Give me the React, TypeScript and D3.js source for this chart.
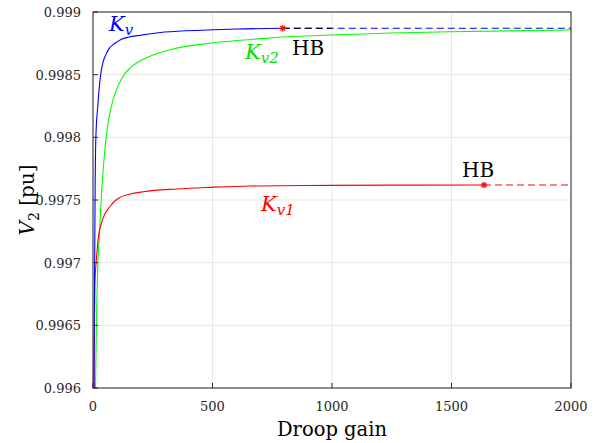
import React from "react";
import * as d3 from "d3";

// Kv (blue) curve
const kvGain = [4, 5.5, 7, 9, 12, 20, 32, 42, 54, 68, 84, 100, 117, 150, 200, 300, 476, 600, 794];
const kvV = [0.996, 0.9966, 0.997, 0.9976, 0.998, 0.99825, 0.9985, 0.9986, 0.99866, 0.99871, 0.99874, 0.99876, 0.99878, 0.9988, 0.998815, 0.99884, 0.998856, 0.998864, 0.99887];

// Kv2 (green) curve
const kv2Gain = [10.5, 14.6, 20.9, 28, 34.7, 44.8, 58.6, 75.3, 96.2, 121.3, 154.8, 196.7, 267.8, 334.7, 476.9, 615, 753, 1000, 1251, 1494, 2000];
const kv2V = [0.996, 0.996543, 0.997021, 0.997261, 0.997524, 0.997795, 0.998058, 0.998234, 0.99837, 0.998473, 0.998553, 0.998609, 0.998669, 0.998705, 0.998749, 0.998774, 0.998795, 0.998816, 0.998832, 0.998843, 0.998856];

// Kv1 (red) curve
const kv1Gain = [4, 6, 8, 14, 21, 36, 50, 71, 90, 113, 155, 210, 350, 490, 657, 1000, 1300, 1636];
const kv1V = [0.996, 0.9965, 0.99684, 0.99702, 0.99718, 0.99732, 0.99739, 0.997446, 0.99749, 0.997521, 0.997548, 0.997566, 0.997588, 0.997601, 0.997612, 0.997617, 0.997619, 0.99762];

// Hopf bifurcation points and dashed continuations
const hbGain = [794, 1636];
const hbV = [0.99887, 0.99762];
const dashEndGain = 2000;

const xTicks = [0, 500, 1000, 1500, 2000];
const xTickLabels = ["0", "500", "1000", "1500", "2000"];
const yTicks = [0.996, 0.9965, 0.997, 0.9975, 0.998, 0.9985, 0.999];
const yTickLabels = ["0.996", "0.9965", "0.997", "0.9975", "0.998", "0.9985", "0.999"];

const W = 605;
const H = 443;
const L = 93, R = 571, T = 12, B = 388;
const FONT = "DejaVu Serif";

export default function App() {
  const x = d3.scaleLinear().domain([0, 2000]).range([L, R]);
  const y = d3.scaleLinear().domain([0.996, 0.999]).range([B, T]);
  const line = d3
    .line<[number, number]>()
    .x((d) => x(d[0]))
    .y((d) => y(d[1]))
    .curve(d3.curveMonotoneX);
  const pts = (g: number[], v: number[]) => g.map((gg, i) => [gg, v[i]] as [number, number]);

  const star = (cx: number, cy: number, color: string) => {
    const r = 3.2;
    const d = r * 0.72;
    return (
      <g stroke={color} strokeWidth={1.2}>
        <line x1={cx - r} y1={cy} x2={cx + r} y2={cy} />
        <line x1={cx} y1={cy - r} x2={cx} y2={cy + r} />
        <line x1={cx - d} y1={cy - d} x2={cx + d} y2={cy + d} />
        <line x1={cx - d} y1={cy + d} x2={cx + d} y2={cy - d} />
      </g>
    );
  };

  return (
    <svg
      width={W}
      height={H}
      fontFamily={FONT}
      style={{ position: "absolute", left: 0, top: 0, background: "#fff" }}
    >
      <defs>
        <clipPath id="plot">
          <rect x={L} y={T} width={R - L} height={B - T} />
        </clipPath>
      </defs>
      <rect x={0} y={0} width={W} height={H} fill="#fff" />
      {/* grid */}
      {xTicks.map((t) => (
        <line key={"gx" + t} x1={x(t)} x2={x(t)} y1={T} y2={B} stroke="#e6e6e6" strokeWidth={1} />
      ))}
      {yTicks.map((t) => (
        <line key={"gy" + t} x1={L} x2={R} y1={y(t)} y2={y(t)} stroke="#e6e6e6" strokeWidth={1} />
      ))}
      {/* curves */}
      <g clipPath="url(#plot)" fill="none" strokeWidth={1.1}>
        <path d={line(pts(kv2Gain, kv2V)) || ""} stroke="#00ff00" />
        <path d={line(pts(kv1Gain, kv1V)) || ""} stroke="#ff0000" />
        <path d={line(pts(kvGain, kvV)) || ""} stroke="#0000ff" />
        <line x1={x(hbGain[0])} x2={x(dashEndGain)} y1={y(hbV[0])} y2={y(hbV[0])} stroke="#0000ff" strokeDasharray="7,4" />
        <line x1={x(hbGain[0])} x2={x(1000)} y1={y(hbV[0])} y2={y(hbV[0])} stroke="#000000" strokeDasharray="7,4" />
        <line x1={x(hbGain[1])} x2={x(dashEndGain)} y1={y(hbV[1])} y2={y(hbV[1])} stroke="#ff0000" strokeDasharray="7,4" />
      </g>
      {star(x(hbGain[0]), y(hbV[0]), "#ff0000")}
      {star(x(hbGain[1]), y(hbV[1]), "#ff0000")}
      {/* axes box */}
      <rect x={L} y={T} width={R - L} height={B - T} fill="none" stroke="#262626" strokeWidth={1} />
      {xTicks.map((t) => (
        <line key={"tx" + t} x1={x(t)} x2={x(t)} y1={B} y2={B - 5} stroke="#262626" />
      ))}
      {yTicks.map((t) => (
        <line key={"ty" + t} x1={L} x2={L + 5} y1={y(t)} y2={y(t)} stroke="#262626" />
      ))}
      {/* tick labels */}
      {xTicks.map((t, i) => (
        <text key={"lx" + t} x={x(t)} y={411} textAnchor="middle" fontSize={13} fill="#262626">
          {xTickLabels[i]}
        </text>
      ))}
      {yTicks.map((t, i) => (
        <text key={"ly" + t} x={81} y={y(t) + 5} textAnchor="end" fontSize={13} fill="#262626">
          {yTickLabels[i]}
        </text>
      ))}
      {/* axis labels */}
      <text x={(L + R) / 2} y={436} textAnchor="middle" fontSize={19.5} fill="#000">
        Droop gain
      </text>
      <text transform={`translate(34,${(T + B) / 2}) rotate(-90)`} textAnchor="middle" fontSize={20} fill="#000">
        <tspan fontStyle="italic">V</tspan>
        <tspan fontSize={14} dy={5}>2</tspan>
        <tspan dy={-5}> [pu]</tspan>
      </text>
      {/* annotations */}
      <text x={109} y={31} fontSize={21} fill="#0000ff" fontStyle="italic">
        K<tspan fontSize={15} dy={4}>v</tspan>
      </text>
      <text x={245} y={59} fontSize={21} fill="#00e000" fontStyle="italic">
        K<tspan fontSize={15} dy={4}>v2</tspan>
      </text>
      <text x={261} y={211} fontSize={21} fill="#ff0000" fontStyle="italic">
        K<tspan fontSize={15} dy={4}>v1</tspan>
      </text>
      <text x={292} y={55} fontSize={20} fill="#000">
        HB
      </text>
      <text x={462} y={177} fontSize={20} fill="#000">
        HB
      </text>
    </svg>
  );
}
